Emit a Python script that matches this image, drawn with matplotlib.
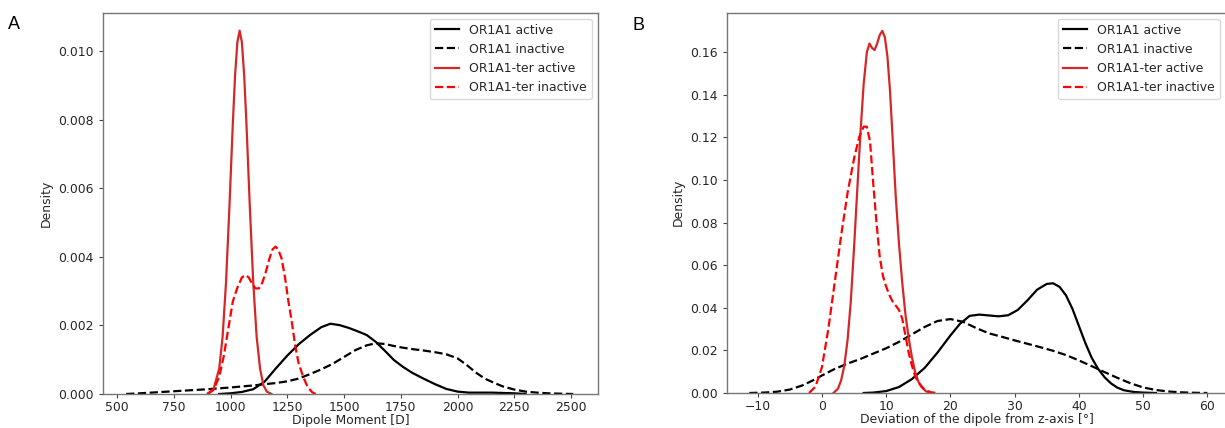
import matplotlib
matplotlib.use("Agg")
import matplotlib.pyplot as plt

# ---- panel A: dipole moment densities ----
a_act_x = [950, 1000, 1050, 1100, 1150, 1200, 1250, 1300, 1350, 1400, 1440, 1480, 1520, 1560, 1600,
           1640, 1680, 1720, 1760, 1800, 1850, 1900, 1950, 2000, 2050, 2100, 2150, 2200, 2250, 2300]
a_act_y = [0, 0.00002, 0.00006, 0.00014, 0.00036, 0.00075, 0.00112, 0.00145, 0.00172, 0.00195, 0.00205,
           0.00201, 0.00193, 0.00183, 0.00172, 0.00152, 0.00126, 0.00099, 0.00079, 0.00062, 0.00045,
           0.00029, 0.00015, 0.00007, 0.00004, 0.00004, 0.00004, 0.00003, 0.00002, 0]

a_inact_x = [540, 600, 700, 800, 900, 1000, 1100, 1200, 1250, 1300, 1350, 1400, 1450, 1500, 1550, 1600,
             1640, 1680, 1720, 1760, 1800, 1850, 1900, 1950, 2000, 2040, 2080, 2120, 2160, 2200, 2250,
             2300, 2350, 2400, 2450, 2510]
a_inact_y = [0, 0.00002, 0.00006, 0.0001, 0.00014, 0.00019, 0.00025, 0.00032, 0.00037, 0.00045, 0.00058,
             0.00072, 0.00088, 0.00108, 0.00128, 0.00142, 0.00148, 0.00146, 0.0014, 0.00135, 0.00131,
             0.00127, 0.00122, 0.00116, 0.00104, 0.00085, 0.00063, 0.00045, 0.00033, 0.00022, 0.00013,
             0.00007, 0.00004, 0.00002, 0.00001, 0]

a_ter_act_x = [900, 925, 950, 965, 980, 995, 1010, 1020, 1030, 1040, 1050, 1060, 1070, 1085, 1100,
               1115, 1130, 1145, 1160, 1180]
a_ter_act_y = [0.00002, 0.00014, 0.00074, 0.00167, 0.00325, 0.00545, 0.00789, 0.0093, 0.01026, 0.0106,
               0.01026, 0.0093, 0.00789, 0.00545, 0.00325, 0.00167, 0.00074, 0.00025, 0.00007, 0]

a_ter_inact_x = [900, 925, 950, 970, 990, 1010, 1030, 1050, 1065, 1080, 1095, 1110, 1125, 1140, 1155,
                 1170, 1185, 1198, 1210, 1225, 1240, 1255, 1270, 1285, 1300, 1320, 1340, 1360, 1375]
a_ter_inact_y = [0, 0.00012, 0.0005, 0.0011, 0.0019, 0.0027, 0.0031, 0.0034, 0.00347, 0.0034, 0.00322,
                 0.00308, 0.00308, 0.00325, 0.00355, 0.00392, 0.00422, 0.0043, 0.00422, 0.00395, 0.0034,
                 0.0027, 0.0021, 0.0014, 0.0009, 0.0005, 0.0002, 0.00005, 0]

# ---- panel B: deviation from z-axis ----
b_act_x = [6.5, 8, 10, 12, 14, 16, 18, 20, 21.5, 23, 24.5, 26, 27.5, 29, 30.5, 32, 33.5, 35, 36, 37,
           38, 39, 40, 41, 42, 43, 44, 45, 46, 47, 48.5, 50, 52]
b_act_y = [0, 0.0002, 0.0009, 0.0028, 0.0065, 0.0118, 0.019, 0.027, 0.0325, 0.0362, 0.0368, 0.0364,
           0.036, 0.0365, 0.039, 0.0435, 0.0485, 0.0512, 0.0515, 0.0498, 0.0458, 0.0395, 0.0315, 0.0235,
           0.0165, 0.0113, 0.0074, 0.0045, 0.0025, 0.0013, 0.0005, 0.0002, 0]

b_inact_x = [-11.3, -9, -7, -5, -3, -1, 0, 2, 4, 6, 8, 10, 12, 14, 16, 18, 20, 22, 24, 26, 28, 30,
             32, 34, 36, 38, 40, 42, 44, 46, 48, 50, 52, 54, 56, 58, 60]
b_inact_y = [0, 0.0002, 0.0006, 0.0016, 0.0036, 0.0065, 0.0082, 0.0113, 0.0138, 0.016, 0.0185, 0.021,
             0.024, 0.0275, 0.031, 0.0338, 0.0347, 0.0334, 0.0305, 0.028, 0.0264, 0.0247, 0.0231,
             0.0215, 0.0198, 0.0178, 0.0153, 0.0126, 0.0098, 0.0071, 0.0046, 0.0026, 0.0014, 0.0007,
             0.0003, 0.0001, 0]

b_ter_act_x = [1.8, 2.5, 3.0, 3.5, 4.0, 4.5, 5.0, 5.5, 6.0, 6.5, 7.0, 7.4, 7.8, 8.2, 8.6, 9.0, 9.4,
               9.8, 10.2, 10.6, 11.0, 11.5, 12.0, 12.5, 13.0, 13.5, 14.0, 14.5, 15.0, 15.5, 16.2, 17.0]
b_ter_act_y = [0, 0.002, 0.006, 0.013, 0.025, 0.043, 0.068, 0.095, 0.122, 0.145, 0.16, 0.164, 0.162,
               0.161, 0.164, 0.168, 0.170, 0.167, 0.158, 0.142, 0.12, 0.092, 0.07, 0.052, 0.037, 0.026,
               0.017, 0.01, 0.0055, 0.0028, 0.0008, 0]

b_ter_inact_x = [-2.0, -1.0, 0.0, 1.0, 2.0, 3.0, 4.0, 5.0, 5.8, 6.5, 7.0, 7.5, 8.0, 8.5, 9.0, 9.5, 10.0,
                 10.5, 11.0, 11.5, 12.0, 12.5, 13.0, 13.5, 14.0, 14.5, 15.0, 16.0, 17.0, 18.0]
b_ter_inact_y = [0, 0.003, 0.012, 0.03, 0.052, 0.074, 0.094, 0.11, 0.12, 0.125, 0.125, 0.118, 0.098,
                 0.08, 0.064, 0.055, 0.05, 0.046, 0.043, 0.041, 0.039, 0.035, 0.027, 0.019, 0.013, 0.008,
                 0.005, 0.0015, 0.0003, 0]

labels = ["OR1A1 active", "OR1A1 inactive", "OR1A1-ter active", "OR1A1-ter inactive"]

FS = 8.9
plt.rcParams['font.family'] = ['DejaVu Sans']
plt.rcParams['font.size'] = FS
plt.rcParams['text.color'] = '#262626'
plt.rcParams['axes.labelcolor'] = '#262626'
plt.rcParams['xtick.color'] = '#444444'
plt.rcParams['ytick.color'] = '#444444'
plt.rcParams['xtick.labelcolor'] = '#262626'
plt.rcParams['ytick.labelcolor'] = '#262626'
plt.rcParams['xtick.major.pad'] = 2.0
plt.rcParams['xtick.major.size'] = 3.0
plt.rcParams['ytick.major.size'] = 3.0

fig = plt.figure(figsize=(12.25, 4.28), dpi=100)
W, H = 1225.0, 428.0
axA = fig.add_axes([103 / W, (H - 394) / H, 495 / W, 381.5 / H])
axB = fig.add_axes([727 / W, (H - 393) / H, 499 / W, 380.5 / H])


def draw(ax, series):
    styles = [('black', '-'), ('black', '--'), ('#d62728', '-'), ('red', '--')]
    for (x, y), (c, ls), lab in zip(series, styles, labels):
        ax.plot(x, y, color=c, ls=ls, lw=1.6, label=lab)
    for s in ax.spines.values():
        s.set_color('#777777')
        s.set_linewidth(1.0)
    ax.set_ylabel("Density", fontsize=FS)
    ax.legend(loc='upper right', fontsize=FS, framealpha=0.8, edgecolor='#d0d0d0')


draw(axA, [(a_act_x, a_act_y), (a_inact_x, a_inact_y),
           (a_ter_act_x, a_ter_act_y), (a_ter_inact_x, a_ter_inact_y)])
axA.set_xlim(438, 2619)
axA.set_ylim(0, 0.01113)
axA.set_xticks([500, 750, 1000, 1250, 1500, 1750, 2000, 2250, 2500])
axA.set_yticks([0, 0.002, 0.004, 0.006, 0.008, 0.010])
axA.set_yticklabels(["0.000", "0.002", "0.004", "0.006", "0.008", "0.010"])
axA.set_xlabel("Dipole Moment [D]", fontsize=FS, labelpad=0)

draw(axB, [(b_act_x, b_act_y), (b_inact_x, b_inact_y),
           (b_ter_act_x, b_ter_act_y), (b_ter_inact_x, b_ter_inact_y)])
axB.set_xlim(-14.77, 62.9)
axB.set_ylim(0, 0.1786)
axB.set_xticks([-10, 0, 10, 20, 30, 40, 50, 60])
axB.set_yticks([0, 0.02, 0.04, 0.06, 0.08, 0.10, 0.12, 0.14, 0.16])
axB.set_yticklabels(["0.00", "0.02", "0.04", "0.06", "0.08", "0.10", "0.12", "0.14", "0.16"])
axB.set_xlabel("Deviation of the dipole from z-axis [°]", fontsize=FS, labelpad=0)

fig.text(8 / W, 1 - 29 / H, "A", fontsize=13, family='Liberation Sans', color='black')
fig.text(633 / W, 1 - 30 / H, "B", fontsize=13, family='Liberation Sans', color='black')

fig.savefig("out.png", dpi=100)
